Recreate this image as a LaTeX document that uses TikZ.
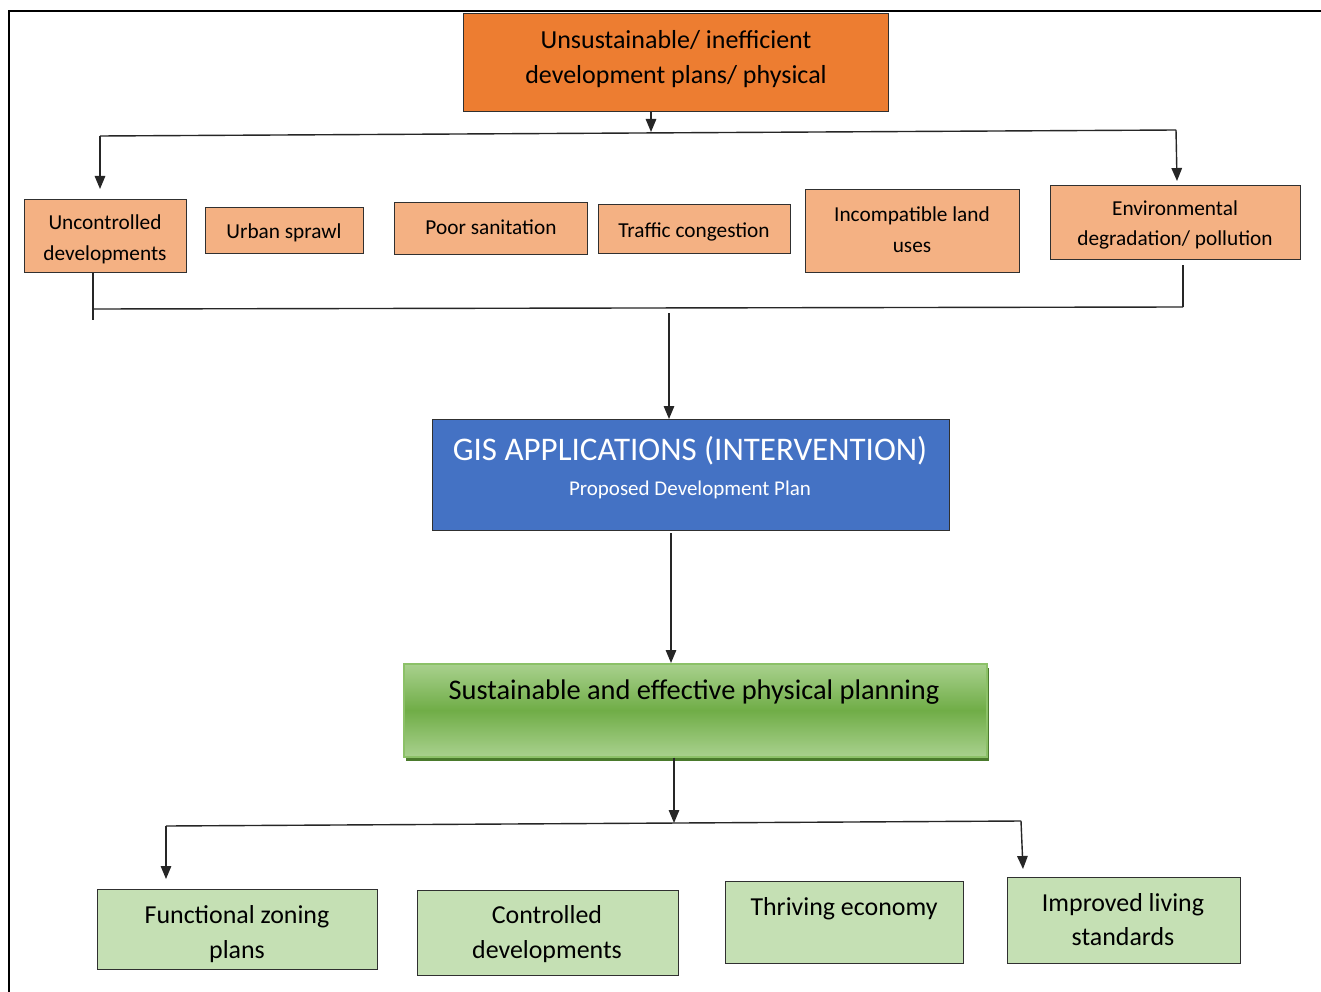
\documentclass[tikz,border=0pt]{standalone}
\usepackage{fontspec}
\setmainfont{Carlito}
\usetikzlibrary{arrows.meta,positioning,calc}
\definecolor{orangeA}{HTML}{ED7D31}
\definecolor{orangeB}{HTML}{F4B183}
\definecolor{blueA}{HTML}{4472C4}
\definecolor{greenL}{HTML}{C5E0B4}
\definecolor{greenT}{HTML}{A9D18E}
\definecolor{greenM}{HTML}{70AD47}
\definecolor{greenD}{HTML}{4A7A2C}
\definecolor{greenE}{HTML}{8CC168}
\definecolor{edge}{HTML}{303030}
\tikzset{
  boxA/.style={draw=edge, line width=1.3pt, inner sep=0pt, anchor=north west},
  txt/.style={inner sep=0pt, anchor=base, align=center, text=black},
  conn/.style={line width=1.4pt, draw=black!85},
  arr/.style={conn, -{Triangle[length=13pt,width=10.5pt]}},
}
\newcommand{\boxat}[6]{% name, x1,y1,x2,y2, fill
  \node[boxA, fill=#6, minimum width={(#4-#2)*1pt}, minimum height={(#5-#3)*1pt}] (#1) at (#2,#3) {};}
\begin{document}
\begin{tikzpicture}[x=1pt,y=-1pt]
\useasboundingbox (0,0) rectangle (1321,992);
\fill[white] (0,0) rectangle (1321,992);
% frame
\draw[line width=2.2pt] (9,992) -- (9,11) -- (1321,11);

% top box
\boxat{top}{463}{13}{888}{111}{orangeA}
\node[txt, font=\fontsize{26}{35}\selectfont] (toptxt) at (676,84) {Unsustainable/ inefficient\\development plans/ physical};

% row boxes
\boxat{unc}{24}{199}{186}{272}{orangeB}
\boxat{urb}{205}{207}{363}{253}{orangeB}
\boxat{poor}{394}{202}{587}{254}{orangeB}
\boxat{traf}{598}{204}{790}{253}{orangeB}
\boxat{inc}{805}{189}{1019}{272}{orangeB}
\boxat{env}{1050}{185}{1300}{259}{orangeB}
\tikzset{rowf/.style={txt, font=\fontsize{21.3}{31}\selectfont}}
\node[rowf] (unct) at (105,260) {Uncontrolled\\developments};
\node[rowf] (urbt) at (284,239) {Urban sprawl};
\node[rowf] (poort) at (491,235) {Poor sanitation};
\node[rowf] (traft) at (694,237) {Traffic congestion};
\node[rowf] (inct) at (912,252) {Incompatible land\\uses};
\node[rowf] (envt) at (1175,246) {Environmental\\degradation/ pollution};

% GIS box
\boxat{gis}{432}{419}{949}{530}{blueA}
\node[txt, text=white, font=\fontsize{33}{40}\selectfont] (gist) at (690,460) {GIS APPLICATIONS (INTERVENTION)};
\node[txt, text=white, font=\fontsize{21}{26}\selectfont] (gisst) at (690,495) {Proposed Development Plan};

% green main box
\fill[greenD] (406,668) rectangle (989,761);
\node[draw=greenE, line width=1.5pt, inner sep=0pt, anchor=north west,
  minimum width=583pt, minimum height=93pt,
  top color=greenT, bottom color=greenT, middle color=greenM] (sus) at (403,663) {};
\node[txt, font=\fontsize{28.4}{34}\selectfont] (sust) at (694,699) {Sustainable and effective physical planning};

% bottom boxes
\boxat{fun}{97}{889}{377}{969}{greenL}
\boxat{con}{417}{890}{678}{975}{greenL}
\boxat{thr}{725}{881}{963}{963}{greenL}
\boxat{imp}{1007}{877}{1240}{963}{greenL}
\tikzset{botf/.style={txt, font=\fontsize{25.9}{35}\selectfont}}
\node[botf] (funt) at (237,958) {Functional zoning\\plans};
\node[botf] (cont) at (547,958) {Controlled\\developments};
\node[botf] (thrt) at (844,915) {Thriving economy};
\node[botf, font=\fontsize{25.9}{34}\selectfont] (impt) at (1123,945) {Improved living\\standards};

% connectors: top
\coordinate (j1) at (651,132);
\coordinate (L1) at (100,136);
\coordinate (R1) at (1176,130);
\draw[arr] (top.south -| j1) -- (j1);
\draw[conn] (L1) -- (R1);
\draw[arr] (L1) -- (100,189);
\draw[arr] (R1) -- (1177,181);

% connectors: gather
\coordinate (L2) at (93,309);
\coordinate (R2) at (1183,307);
\draw[conn] (unc.south -| L2) -- (93,320);
\draw[conn] (L2) -- (R2);
\draw[conn] (1183,265) -- (R2);
\draw[arr] (669,313) -- (gis.north -| 669,0);

% GIS to green
\draw[arr] (671,533) -- (sus.north -| 671,0);

% bottom spread
\coordinate (j3) at (674,823);
\coordinate (L3) at (166,826);
\coordinate (R3) at (1021,821);
\draw[arr] (sus.south -| j3) -- (j3);
\draw[conn] (L3) -- (R3);
\draw[arr] (L3) -- (166,879);
\draw[arr] (R3) -- (1023,869);
\end{tikzpicture}
\end{document}
